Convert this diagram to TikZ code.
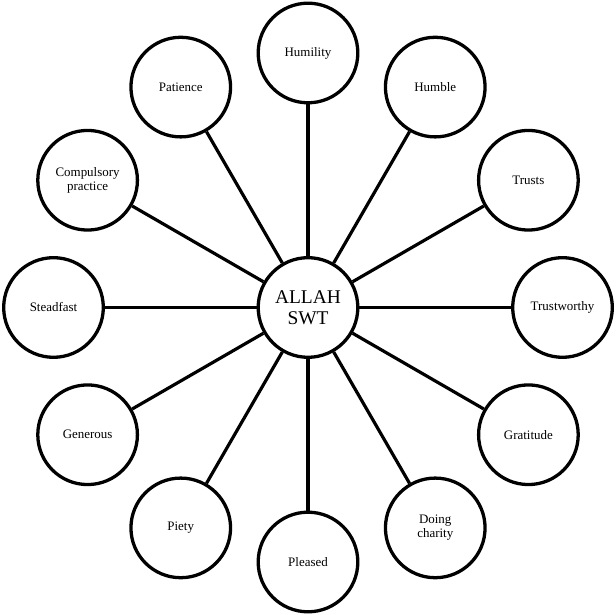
\documentclass[tikz,border=0pt]{standalone}
\usepackage{fontspec}
\setmainfont{Liberation Serif}
\usepackage{tikz}
\usetikzlibrary{calc, positioning}
\usepackage{xcolor}
\definecolor{RichBlack}{RGB}{0, 0, 0}
\tikzset{%
  hub/.style={%
    circle,%
    draw=RichBlack,%
    fill=white,%
    line width=3.3,%
    minimum size=100,%
    inner sep=0,%
    align=center,%
    font={\fontsize{19.5}{21}\selectfont},%
  },
  virtue/.style={%
    circle,%
    draw=RichBlack,%
    fill=white,%
    line width=3.3,%
    minimum size=100,%
    inner sep=0,%
    align=center,%
    font={\fontsize{13}{14}\selectfont},%
  },
  spoke/.style={%
    color=RichBlack,%
    line width=3.2,%
  },
}
\begin{document}
\begin{tikzpicture}[x=1bp, y=1bp]

    \useasboundingbox [fill=white] (0, 0) rectangle (616, 615);

    \node [hub] (Allah) at (308, 307.5) {ALLAH\\SWT};
    \node [virtue] (Humility) at ($(Allah) + (90:254.5)$) {Humility};
    \node [virtue] (Humble) at ($(Allah) + (60:254.5)$) {Humble};
    \node [virtue] (Trusts) at ($(Allah) + (30:254.5)$) {Trusts};
    \node [virtue] (Trustworthy) at ($(Allah) + (0:254.5)$) {Trustworthy};
    \node [virtue] (Gratitude) at ($(Allah) + (-30:254.5)$) {Gratitude};
    \node [virtue] (Charity) at ($(Allah) + (-60:254.5)$) {Doing\\charity};
    \node [virtue] (Pleased) at ($(Allah) + (-90:254.5)$) {Pleased};
    \node [virtue] (Piety) at ($(Allah) + (-120:254.5)$) {Piety};
    \node [virtue] (Generous) at ($(Allah) + (-150:254.5)$) {Generous};
    \node [virtue] (Steadfast) at ($(Allah) + (180:254.5)$) {Steadfast};
    \node [virtue] (Compulsory) at ($(Allah) + (150:254.5)$) {Compulsory\\practice};
    \node [virtue] (Patience) at ($(Allah) + (120:254.5)$) {Patience};

    \draw [spoke] (Allah) -- (Humility);
    \draw [spoke] (Allah) -- (Humble);
    \draw [spoke] (Allah) -- (Trusts);
    \draw [spoke] (Allah) -- (Trustworthy);
    \draw [spoke] (Allah) -- (Gratitude);
    \draw [spoke] (Allah) -- (Charity);
    \draw [spoke] (Allah) -- (Pleased);
    \draw [spoke] (Allah) -- (Piety);
    \draw [spoke] (Allah) -- (Generous);
    \draw [spoke] (Allah) -- (Steadfast);
    \draw [spoke] (Allah) -- (Compulsory);
    \draw [spoke] (Allah) -- (Patience);

  \end{tikzpicture}
\end{document}
